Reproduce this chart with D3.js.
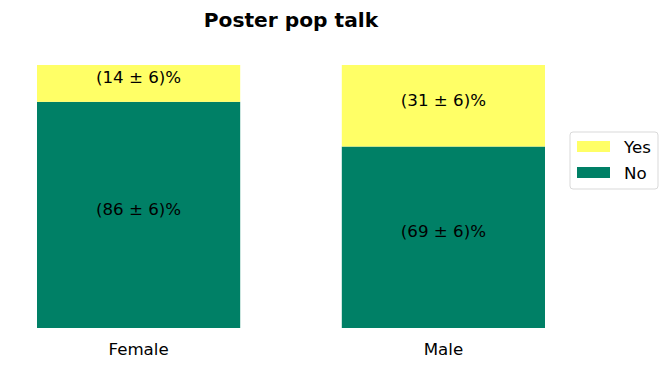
<!DOCTYPE html>
<html>
<head>
<meta charset="utf-8">
<script src="https://cdn.jsdelivr.net/npm/d3@7"></script>
<style>
  body { margin: 0; background: #fff; }
  text { font-family: "DejaVu Sans", sans-serif; }
</style>
</head>
<body>
<svg id="chart"></svg>
<script>
// Chart data
const categories = ["Female", "Male"];
const seriesNames = ["No", "Yes"];
const noValues = [86, 69];
const yesValues = [14, 31];
const errors = [6, 6];
const colors = { No: "#008066", Yes: "#ffff66" };

const width = 671;
const height = 371;
const margin = { top: 65, right: 126, bottom: 43, left: 37 };
const fontSize = "16.67px";

const svg = d3.select("#chart").attr("width", width).attr("height", height);

// Scales
const x = d3
  .scaleBand()
  .domain(categories)
  .range([margin.left, width - margin.right])
  .paddingInner(1 / 3)
  .paddingOuter(0);

const y = d3
  .scaleLinear()
  .domain([0, 100])
  .range([height - margin.bottom, margin.top]);

// Stack the series
const rows = categories.map((c, i) => ({ cat: c, No: noValues[i], Yes: yesValues[i], err: errors[i] }));
const stacked = d3.stack().keys(seriesNames)(rows);

stacked.forEach(function (layer) {
  const g = svg.append("g");
  g.selectAll("rect")
    .data(layer)
    .enter()
    .append("rect")
    .attr("x", (d) => x(d.data.cat))
    .attr("width", x.bandwidth())
    .attr("y", (d) => y(d[1]))
    .attr("height", (d) => y(d[0]) - y(d[1]))
    .attr("fill", colors[layer.key]);

  // Percentage labels
  g.selectAll("text")
    .data(layer)
    .enter()
    .append("text")
    .attr("x", (d) => x(d.data.cat) + x.bandwidth() / 2)
    .attr("y", (d) => (y(d[0]) + y(d[1])) / 2)
    .attr("text-anchor", "middle")
    .attr("font-size", fontSize)
    .attr("fill", "#000")
    .text((d) => `(${d.data[layer.key]} ± ${d.data.err})%`);
});

// Category labels (x axis without line/ticks)
svg
  .append("g")
  .selectAll("text")
  .data(categories)
  .enter()
  .append("text")
  .attr("x", (d) => x(d) + x.bandwidth() / 2)
  .attr("y", 355)
  .attr("text-anchor", "middle")
  .attr("font-size", fontSize)
  .attr("fill", "#000")
  .text((d) => d);

// Title
svg
  .append("text")
  .attr("x", (margin.left + width - margin.right) / 2)
  .attr("y", 27)
  .attr("text-anchor", "middle")
  .attr("font-size", "20.2px")
  .attr("font-weight", "bold")
  .text("Poster pop talk");

// Legend
const legend = svg.append("g").attr("transform", "translate(570,132)");
legend
  .append("rect")
  .attr("width", 88)
  .attr("height", 57)
  .attr("rx", 3)
  .attr("fill", "#fff")
  .attr("stroke", "#d9d9d9")
  .attr("stroke-width", 1);

const legendItems = ["Yes", "No"];
legendItems.forEach(function (key, i) {
  const row = legend.append("g").attr("transform", `translate(7,${9 + i * 26})`);
  row
    .append("rect")
    .attr("width", 33)
    .attr("height", 11)
    .attr("fill", colors[key]);
  row
    .append("text")
    .attr("x", 47)
    .attr("y", 12)
    .attr("font-size", fontSize)
    .attr("fill", "#000")
    .text(key);
});
</script>
</body>
</html>
